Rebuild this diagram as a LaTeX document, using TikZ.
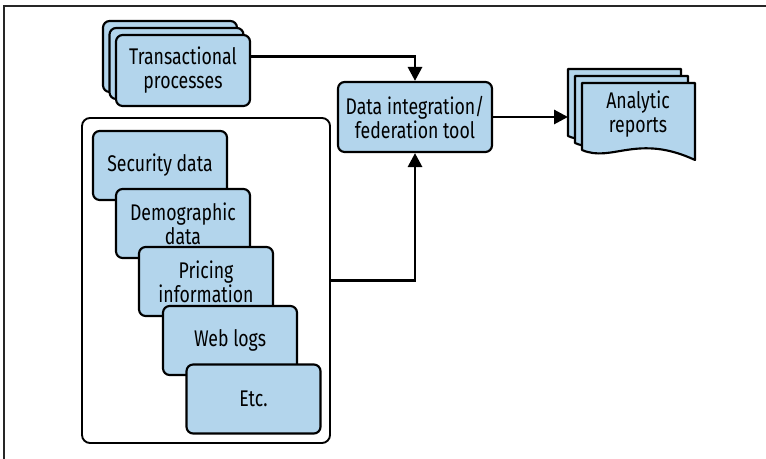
\documentclass[tikz,border=0pt]{standalone}
\usepackage{fontspec}
\setmainfont[FakeStretch=0.78]{Fira Sans}
\usetikzlibrary{arrows.meta,calc}
\definecolor{cardfill}{HTML}{B3D5EC}
\newcommand\cardfont{\fontsize{17}{18}\selectfont}
\tikzset{
  card/.style={draw=black, line width=1.6pt, fill=cardfill, rounded corners=5pt,
    inner sep=0pt, align=center, font=\cardfont,
    minimum width=100.5pt, minimum height=51.75pt},
  holder/.style={draw=black, line width=1.4pt, fill=white, rounded corners=6pt,
    inner sep=0pt, minimum width=186pt, minimum height=243.75pt},
  conn/.style={draw=black, line width=2.2pt, -{Triangle[length=10.5pt,width=10.5pt]}},
  frameline/.style={draw=black!85, line width=0.9pt},
  docsheet/.pic={
    \draw[line width=1.6pt, fill=cardfill, line join=round]
      (0,0) -- (113,0) -- (113,77) .. controls (55,50) and (30,80) .. (0,67) -- cycle;
  }
}
\begin{document}
\begin{tikzpicture}[x=0.75pt,y=-0.75pt]
  \useasboundingbox (0,0) rectangle (766,459);
  \fill[white] (0,0) rectangle (766,459);
  % page frame (top and left rules)
  \draw[frameline] (4,459) -- (4,6) -- (766,6);

  % transactional processes: a stack of three cards
  \node[card, minimum height=53.25pt] (tp3) at (170,56.5) {};
  \node[card, minimum height=53.25pt] (tp2) at (176.5,63.5) {};
  \node[card, minimum height=53.25pt] (tp) at (183,70.5) {Transactional\\processes};

  % container of the other data sources
  \node[holder] (src) at (206,280.5) {};
  \node[card] (sec) at (160,165.5) {Security data};
  \node[card] (demo) at (183,223.5) {Demographic\\data};
  \node[card] (price) at (206,281.5) {Pricing\\information};
  \node[card] (web) at (230,340.5) {Web logs};
  \node[card] (etc) at (253.5,399) {Etc.};

  % integration tool
  \node[card, minimum width=115.5pt, minimum height=52.5pt] (di) at (415,117)
    {Data integration/\\federation tool};

  % analytic reports: stacked document sheets
  \pic at (568,69) {docsheet};
  \pic at (575,76) {docsheet};
  \pic at (582,83) {docsheet};
  \node[align=center, font=\cardfont, inner sep=0pt] (ar) at (638,114) {Analytic\\reports};
  \coordinate (arin) at (568,117);

  % connectors
  \draw[conn] ($(tp.north east)!0.31!(tp.south east)$) -| (di.north);
  \draw[conn] (src.east) -| (di.south);
  \draw[conn] (di.east) -- (arin);
\end{tikzpicture}
\end{document}
